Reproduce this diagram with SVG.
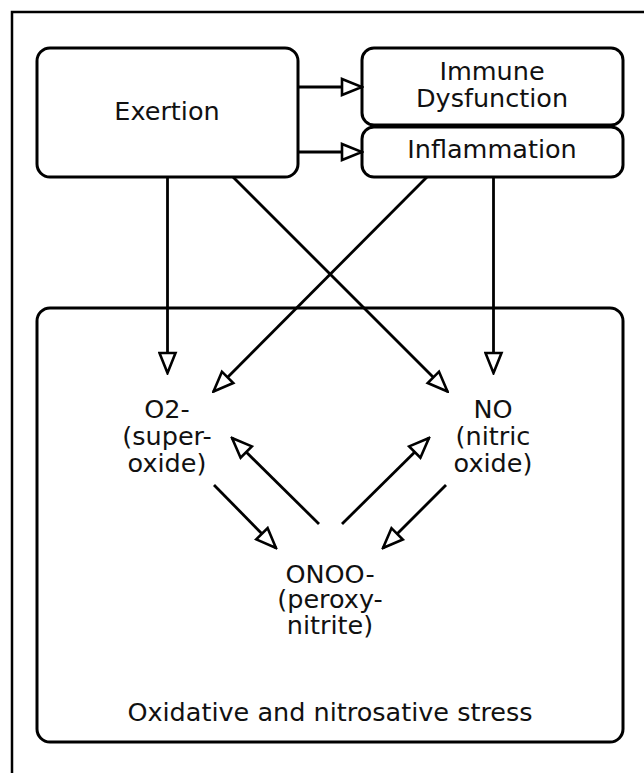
<svg xmlns="http://www.w3.org/2000/svg" width="644" height="773" viewBox="0 0 644 773">
<style>
.box{fill:#fff;stroke:#000;stroke-width:3}
.frame{fill:none;stroke:#000;stroke-width:2.5}
.t{font-family:"DejaVu Sans","Liberation Sans",sans-serif;font-size:25.5px;fill:#111;text-anchor:middle}
.c{fill:none;stroke:#000;stroke-width:2.8;marker-end:url(#ah)}
</style>
<defs>
<marker id="ah" viewBox="0 0 24 20" refX="22" refY="10" markerWidth="24" markerHeight="20" markerUnits="userSpaceOnUse" orient="auto">
<path d="M2,2 L22,10 L2,18 Z" fill="#fff" stroke="#000" stroke-width="2.6" stroke-linejoin="miter"/>
</marker>
</defs>
<rect width="644" height="773" fill="#fff"/>
<path class="frame" d="M12,773 V12 H644"/>
<g id="stress">
<rect class="box" x="37" y="308" width="586" height="434" rx="13"/>
<text class="t" x="330" y="721">Oxidative and nitrosative stress</text>
</g>
<g id="exertion">
<rect class="box" x="37" y="48" width="261" height="129" rx="13"/>
<text class="t" x="167" y="120">Exertion</text>
</g>
<g id="immune">
<rect class="box" x="362" y="48" width="261" height="77" rx="12"/>
<text class="t" x="492" y="79.5">Immune</text>
<text class="t" x="492" y="106.5">Dysfunction</text>
</g>
<g id="inflammation">
<rect class="box" x="362" y="127" width="261" height="50" rx="12"/>
<text class="t" x="492" y="158">Inflammation</text>
</g>
<g id="o2">
<text class="t" x="167" y="417.5">O2-</text>
<text class="t" x="167" y="444.5">(super-</text>
<text class="t" x="167" y="471.5">oxide)</text>
</g>
<g id="no">
<text class="t" x="493" y="417.5">NO</text>
<text class="t" x="493" y="444.5">(nitric</text>
<text class="t" x="493" y="471.5">oxide)</text>
</g>
<g id="onoo">
<text class="t" x="330" y="582.5">ONOO-</text>
<text class="t" x="330" y="608">(peroxy-</text>
<text class="t" x="330" y="633.5">nitrite)</text>
</g>
<g id="connectors">
<path class="c" d="M298,87 H362"/>
<path class="c" d="M298,152 H362"/>
<path class="c" d="M167.5,177 V373"/>
<path class="c" d="M493.5,177 V373"/>
<path class="c" d="M233,177 L447.5,391.5"/>
<path class="c" d="M427,177 L213.5,391.5"/>
<path class="c" d="M214,485 L276,548"/>
<path class="c" d="M446,485 L383,548"/>
<path class="c" d="M319,524 L232,438"/>
<path class="c" d="M342,524 L429,438"/>
</g>
</svg>
